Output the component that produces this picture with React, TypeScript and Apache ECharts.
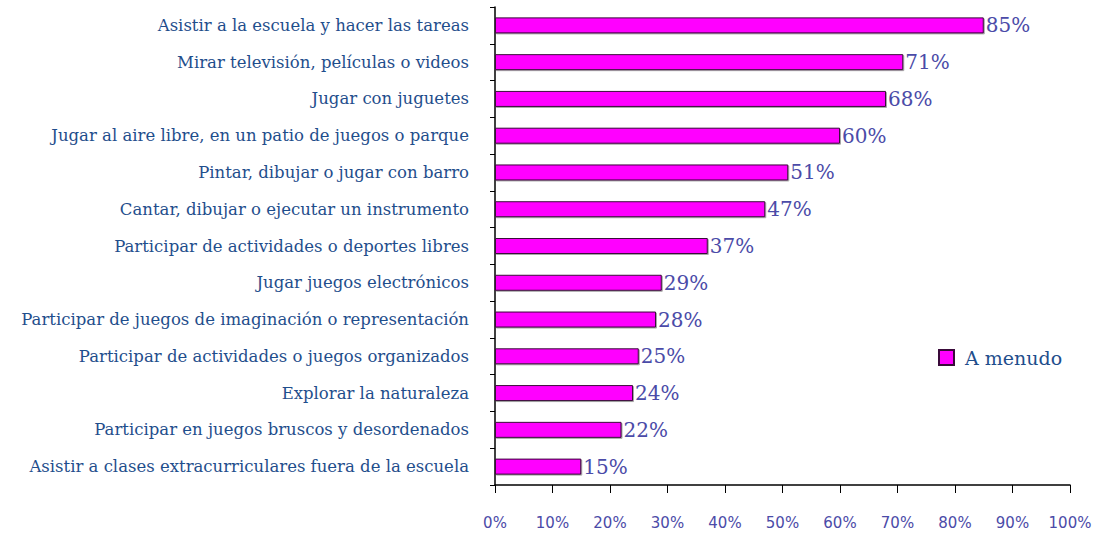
import React, { useEffect, useRef } from "react";
import * as echarts from "echarts";

const categories = [
  "Asistir a la escuela y hacer las tareas",
  "Mirar televisión, películas o videos",
  "Jugar con juguetes",
  "Jugar al aire libre, en un patio de juegos o parque",
  "Pintar, dibujar o jugar con barro",
  "Cantar, dibujar o ejecutar un instrumento",
  "Participar de actividades o deportes libres",
  "Jugar juegos electrónicos",
  "Participar de juegos de imaginación o representación",
  "Participar de actividades o juegos organizados",
  "Explorar la naturaleza",
  "Participar en juegos bruscos y desordenados",
  "Asistir a clases extracurriculares fuera de la escuela",
];
const values = [85, 71, 68, 60, 51, 47, 37, 29, 28, 25, 24, 22, 15];
const seriesName = "A menudo";
const xTicks = [0, 10, 20, 30, 40, 50, 60, 70, 80, 90, 100];

export default function App() {
  const ref = useRef<HTMLDivElement>(null);
  useEffect(() => {
    if (!ref.current) return;
    const chart = echarts.init(ref.current, null, { renderer: "svg" });
    chart.setOption({
      animation: false,
      backgroundColor: "#ffffff",
      grid: { left: 495, right: 29, top: 7, bottom: 50 },
      legend: {
        show: true,
        data: [{ name: seriesName, icon: "rect" }],
        left: 933,
        top: 343,
        itemWidth: 15,
        itemHeight: 15,
        itemGap: 14,
        textStyle: { fontFamily: "DejaVu Serif", fontSize: 19, color: "#1f4e8c", padding: [0, 0, 0, 6] },
      },
      xAxis: {
        type: "value",
        min: 0,
        max: xTicks[xTicks.length - 1],
        interval: 10,
        splitLine: { show: false },
        axisLine: { show: true, lineStyle: { color: "#000", width: 1.5 } },
        axisTick: { show: true, length: 8, lineStyle: { color: "#000" } },
        axisLabel: {
          formatter: (v: number) => v + "%",
          margin: 30,
          fontFamily: "DejaVu Sans",
          fontSize: 15,
          color: "#4b4ba8",
        },
      },
      yAxis: {
        type: "category",
        data: categories,
        inverse: true,
        axisLine: { show: true, lineStyle: { color: "#000", width: 1.5 } },
        axisTick: { show: true, length: 5, lineStyle: { color: "#000" } },
        axisLabel: {
          margin: 26,
          fontFamily: "DejaVu Serif",
          fontSize: 16.5,
          color: "#1f4e8c",
        },
      },
      series: [
        {
          name: seriesName,
          type: "bar",
          data: values,
          barWidth: 16,
          itemStyle: {
            color: "#ff00ff",
            borderColor: "#3a0a3a",
            borderWidth: 1,
            shadowColor: "rgba(0,0,0,0.35)",
            shadowOffsetX: 1,
            shadowOffsetY: 1,
            shadowBlur: 1,
          },
          label: {
            show: true,
            position: "right",
            distance: 2,
            formatter: "{c}%",
            fontFamily: "DejaVu Serif",
            fontSize: 20,
            color: "#4b4ba8",
          },
        },
      ],
    });
    return () => chart.dispose();
  }, []);
  return <div ref={ref} style={{ width: 1099, height: 535, position: "absolute", left: 0, top: 0 }} />;
}
